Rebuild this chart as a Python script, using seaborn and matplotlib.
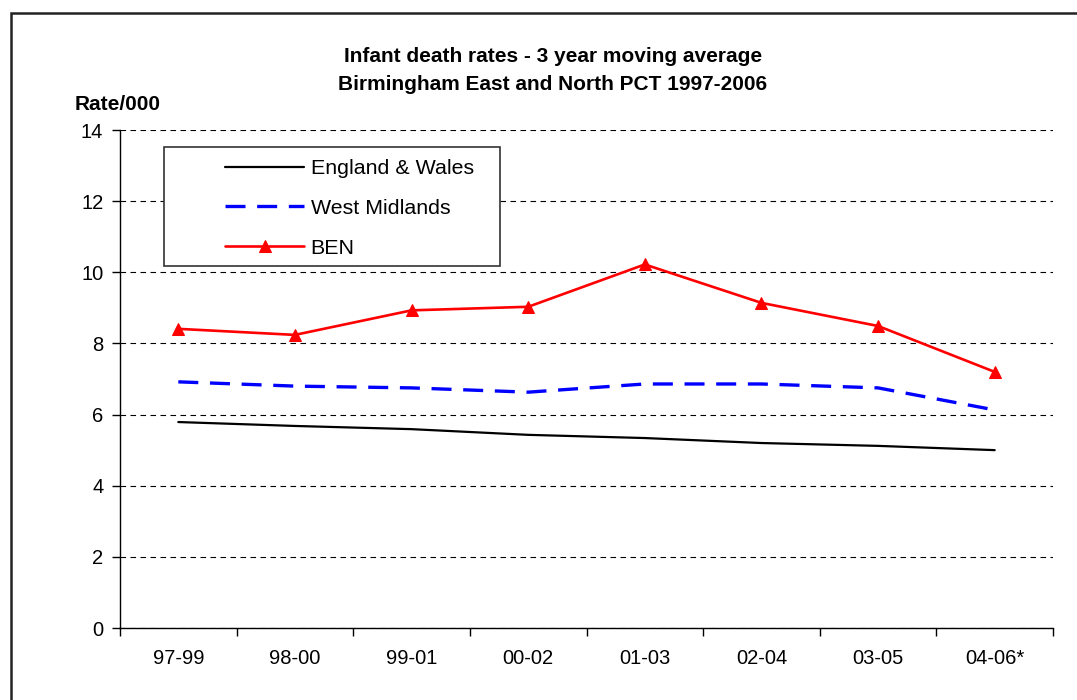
import matplotlib
matplotlib.use('Agg')
import matplotlib.pyplot as plt
from matplotlib.patches import Rectangle
from matplotlib.ticker import FixedLocator, NullFormatter
import seaborn as sns
import pandas as pd

periods = ['97-99', '98-00', '99-01', '00-02', '01-03', '02-04', '03-05', '04-06*']
england_wales = [5.79, 5.68, 5.59, 5.43, 5.34, 5.20, 5.12, 5.00]
west_midlands = [6.92, 6.80, 6.75, 6.63, 6.86, 6.86, 6.75, 6.13]
ben = [8.41, 8.24, 8.93, 9.03, 10.22, 9.14, 8.49, 7.20]

df = pd.DataFrame({'pos': range(len(periods)),
                   'England & Wales': england_wales,
                   'West Midlands': west_midlands,
                   'BEN': ben})

sns.set_style('white')
plt.rcParams['font.family'] = ['Liberation Sans', 'DejaVu Sans']
plt.rcParams['text.color'] = 'black'
plt.rcParams['xtick.color'] = 'black'
plt.rcParams['ytick.color'] = 'black'

fig = plt.figure(figsize=(10.77, 7), dpi=100)
ax = fig.add_axes([120/1077, 1 - 628/700, 933/1077, 498/700])

sns.lineplot(x='pos', y='England & Wales', data=df, ax=ax, color='black',
             linewidth=1.6, label='England & Wales', zorder=5)
sns.lineplot(x='pos', y='West Midlands', data=df, ax=ax, color='#0000ff',
             linewidth=2.4, label='West Midlands', zorder=5)
ax.lines[-1].set_dashes((6, 3.5))
sns.lineplot(x='pos', y='BEN', data=df, ax=ax, color='#ff0000', linewidth=1.9,
             marker='^', markersize=9, markeredgecolor='#ff0000',
             label='BEN', zorder=6)

ax.set_xlim(-0.5, len(periods) - 0.5)
ax.set_ylim(0, 14)
ax.set_yticks(range(0, 15, 2))
ax.yaxis.grid(True, linestyle=(0, (5, 4)), color='black', linewidth=0.8)
ax.set_axisbelow(True)

# category boundaries carry the tick marks, labels sit between them
ax.xaxis.set_major_locator(FixedLocator([i - 0.5 for i in range(len(periods) + 1)]))
ax.xaxis.set_major_formatter(NullFormatter())
ax.xaxis.set_minor_locator(FixedLocator(list(range(len(periods)))))
ax.set_xticklabels(periods, minor=True)
ax.tick_params(axis='x', which='minor', length=0, labelsize=14.5, pad=15)
ax.tick_params(axis='x', which='major', length=6, width=1, direction='out', colors='black')
ax.tick_params(axis='y', length=6, width=1, direction='out', labelsize=14.5, pad=6)
ax.tick_params(axis='both', which='both', bottom=True, left=True)

for s in ['top', 'right']:
    ax.spines[s].set_visible(False)
for s in ['left', 'bottom']:
    ax.spines[s].set_color('black')
    ax.spines[s].set_linewidth(1)

ax.set_xlabel('')
ax.set_ylabel('')

# legend box
ax.add_patch(Rectangle((44/933, (628-266)/498), 336/933, 119/498, transform=ax.transAxes,
                       facecolor='white', edgecolor='#333333', linewidth=1.2, zorder=7))
leg = ax.legend(loc='upper left', bbox_to_anchor=(105/933, (628-159)/498), frameon=False,
                fontsize=15.4, handlelength=3.7, handletextpad=0.3, labelspacing=0.98,
                borderpad=0, borderaxespad=0)
leg.set_zorder(8)

fig.text(553/1077, 1 - 57/700, 'Infant death rates - 3 year moving average',
         ha='center', va='center', fontsize=15, fontweight='bold')
fig.text(553/1077, 1 - 84/700, 'Birmingham East and North PCT 1997-2006',
         ha='center', va='center', fontsize=15, fontweight='bold')
fig.text(75/1077, 1 - 104/700, 'Rate/000', ha='left', va='center',
         fontsize=15, fontweight='bold')

# outer chart frame (only top and left edges fall inside the image)
fig.add_artist(Rectangle((11/1077, -0.1), 1.2, 0.1 + 1 - 13/700, transform=fig.transFigure,
                         fill=False, edgecolor='#222222', linewidth=1.8))

plt.savefig('out.png', dpi=100)
